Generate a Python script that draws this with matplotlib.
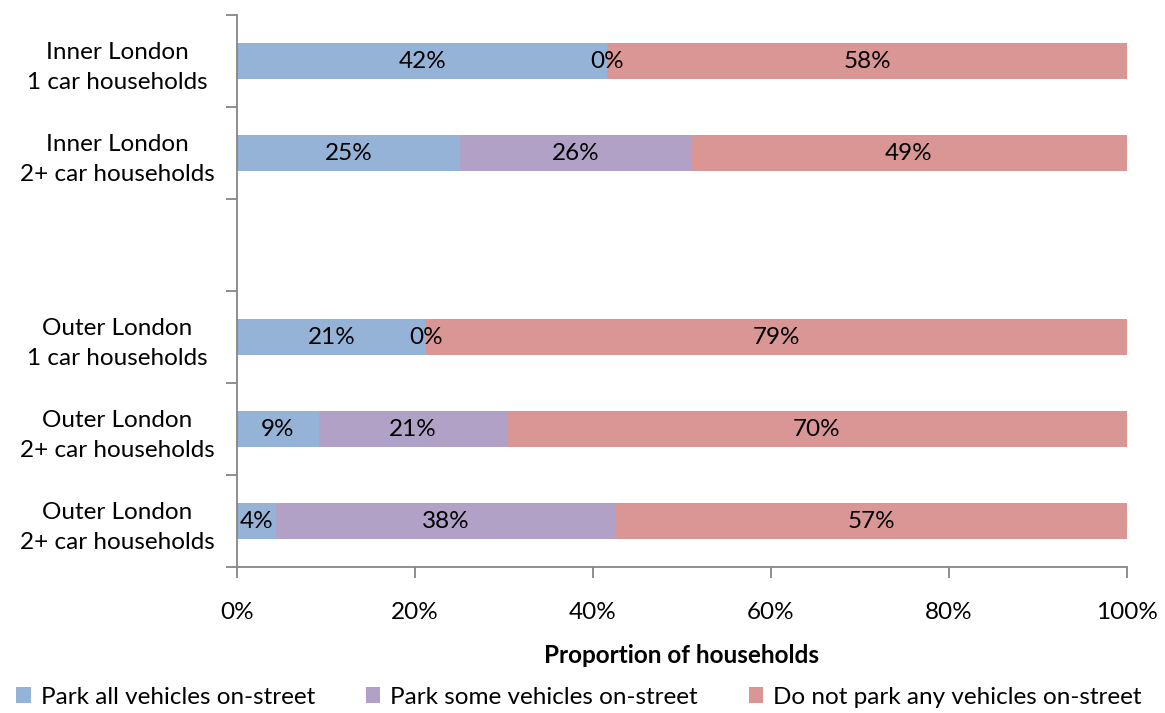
import matplotlib
matplotlib.use("Agg")
import matplotlib.pyplot as plt
import numpy as np

categories = ["Inner London\n1 car households", "Inner London\n2+ car households", "",
              "Outer London\n1 car households", "Outer London\n2+ car households",
              "Outer London\n2+ car households"]
series = ["Park all vehicles on-street", "Park some vehicles on-street",
          "Do not park any vehicles on-street"]
park_all = [41.6, 25.1, None, 21.2, 9.2, 4.4]
park_some = [0.0, 25.9, None, 0.0, 21.1, 38.2]
park_none = [58.4, 49.0, None, 78.8, 69.7, 57.4]
colors = ["#95B3D7", "#B2A1C7", "#D99694"]
xticks = [0, 20, 40, 60, 80, 100]

FS = 17.5
plt.rcParams['font.family'] = ['Lato', 'DejaVu Sans']
fig = plt.figure(figsize=(11.65, 7.13), dpi=100)
ax = fig.add_axes([237/1165, 1-567/713, 890/1165, 552/713])

ypos = np.arange(len(categories))
left = np.zeros(len(categories))
for vals, col, name in zip([park_all, park_some, park_none], colors, series):
    v = np.array([0 if x is None else x for x in vals], dtype=float)
    ax.barh(ypos, v, left=left, height=0.39, color=col, label=name)
    for i, x in enumerate(vals):
        if x is None:
            continue
        ax.text(left[i] + v[i] / 2, ypos[i], f"{x:.0f}%", ha="center", va="center",
                fontsize=FS, color="black")
    left += v

ax.set_ylim(len(categories) - 0.5, -0.5)
ax.set_xlim(0, 100)
ax.set_yticks(ypos)
ax.set_yticklabels(categories, fontsize=FS, linespacing=1.55, ha="center")
ax.tick_params(axis='y', which='major', length=0, pad=86)
ax.set_yticks(np.arange(-0.5, len(categories), 1), minor=True)
ax.tick_params(axis='y', which='minor', length=8, color="#868686", width=1.3)
ax.set_xticks(xticks)
ax.set_xticklabels([f"{t}%" for t in xticks], fontsize=FS)
ax.tick_params(axis='x', length=8, color="#868686", width=1.3, pad=17)
ax.set_xlabel("Proportion of households", fontsize=FS, fontweight="bold", labelpad=15)
for s in ["top", "right"]:
    ax.spines[s].set_visible(False)
for s in ["left", "bottom"]:
    ax.spines[s].set_color("#868686")
    ax.spines[s].set_linewidth(1.3)

fig.legend(loc="center", bbox_to_anchor=(0.497, 1-697/713), ncol=3, frameon=False,
           fontsize=FS, handlelength=0.6, handleheight=0.6, columnspacing=2.1,
           handletextpad=0.4)

fig.savefig("out.png", dpi=100)
